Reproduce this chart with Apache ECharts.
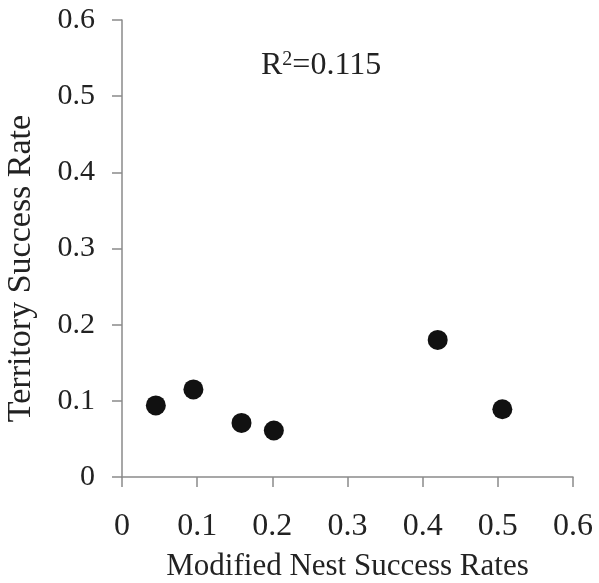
<!DOCTYPE html>
<html><head><meta charset="utf-8">
<script src="https://cdn.jsdelivr.net/npm/echarts@6/dist/echarts.min.js"></script>
<style>html,body{margin:0;padding:0;background:#fff}#c{width:599px;height:583px}</style>
</head><body><div id="c"></div>
<script>
const nestSuccess = [0.045, 0.095, 0.159, 0.202, 0.42, 0.506];
const territorySuccess = [0.094, 0.115, 0.071, 0.061, 0.18, 0.089];
const xTicks = [0, 0.1, 0.2, 0.3, 0.4, 0.5, 0.6];
const yTicks = [0, 0.1, 0.2, 0.3, 0.4, 0.5, 0.6];
const rSquared = '0.115';

const font = 'Liberation Serif';
const txt = '#222';
const axisCol = '#8a8a8a';
const chart = echarts.init(document.getElementById('c'));
chart.setOption({
  backgroundColor: '#fff',
  animation: false,
  grid: {left: 122, right: 26, top: 20, bottom: 106, outerBoundsMode: 'none', containLabel: false},
  xAxis: {
    type: 'value', min: 0, max: 0.6, interval: 0.1,
    name: 'Modified Nest Success Rates', nameLocation: 'middle', nameGap: 74,
    nameTextStyle: {fontFamily: font, fontSize: 31, color: txt},
    axisLine: {show: true, lineStyle: {color: axisCol, width: 1.5}},
    axisTick: {show: true, length: 10, lineStyle: {color: axisCol, width: 1.5}},
    axisLabel: {fontFamily: font, fontSize: 32, color: txt, margin: 34,
      formatter: v => { const t = xTicks.find(k => Math.abs(k - v) < 1e-9); return t === undefined ? '' : String(t); }},
    splitLine: {show: false}
  },
  yAxis: {
    type: 'value', min: 0, max: 0.6, interval: 0.1,
    name: 'Territory Success Rate', nameLocation: 'middle', nameGap: 84,
    nameTextStyle: {fontFamily: font, fontSize: 34, color: txt, padding: [0, 40, 0, 0]},
    axisLine: {show: true, lineStyle: {color: axisCol, width: 1.5}},
    axisTick: {show: true, length: 10, lineStyle: {color: axisCol, width: 1.5}},
    axisLabel: {fontFamily: font, fontSize: 30, color: txt, margin: 27,
      formatter: v => { const t = yTicks.find(k => Math.abs(k - v) < 1e-9); return t === undefined ? '' : String(t); }},
    splitLine: {show: false}
  },
  series: [{
    type: 'scatter',
    data: nestSuccess.map((x, i) => [x, territorySuccess[i]]),
    symbolSize: 20,
    itemStyle: {color: '#111', opacity: 1}
  }],
  graphic: [{
    type: 'text', left: 261, top: 50,
    style: {
      rich: {
        b: {fontFamily: font, fontSize: 32, fill: txt},
        s: {fontFamily: font, fontSize: 20, fill: txt, verticalAlign: 'top', padding: [0,0,12,0]}
      },
      text: '{b|R}{s|2}{b|=' + rSquared + '}'
    }
  }]
});
</script></body></html>
